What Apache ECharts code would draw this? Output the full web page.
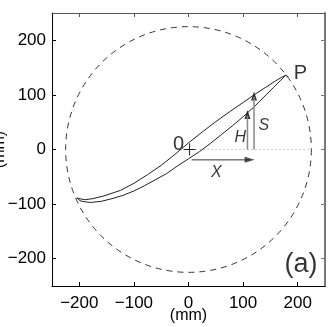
<!DOCTYPE html>
<html>
<head>
<meta charset="utf-8">
<script src="https://cdn.jsdelivr.net/npm/echarts@6/dist/echarts.min.js"></script>
<style>
  html, body { margin: 0; padding: 0; background: #fff; }
  #chart { width: 331px; height: 327px; }
</style>
</head>
<body>
<div id="chart"></div>
<script>
// tick labels (mm)
const xTicks = [-200, -100, 0, 100, 200];
const yTicks = [-200, -100, 0, 100, 200];

// trajectory loop: [x, y] in mm
const upperPath = [
  [-205, -89], [-190, -92], [-175, -90], [-155, -85], [-125, -75], [-100, -62],
  [-75, -46], [-50, -29], [-25, -9], [0, 12], [25, 32], [50, 51], [75, 69],
  [100, 86], [120, 100], [140, 113], [160, 126], [170, 132], [178, 136], [183, 133]
];
const lowerPath = [
  [-203, -88], [-200, -93], [-195, -95], [-180, -97], [-160, -95], [-140, -90],
  [-120, -84], [-100, -76], [-80, -66], [-60, -55], [-40, -44], [-20, -30],
  [0, -17], [20, -4], [40, 11], [60, 27], [80, 43], [100, 60], [120, 78],
  [140, 98], [156, 114], [169, 127], [178, 136]
];

// dashed reach circle: [cx, cy, r]
const reachCircle = [[0, 0, 225]];

// construction lines
const dottedAxis = [[13, 0], [225, 0]];
const xArrow = [[6, -19], [112, -19]];
const hArrow = [[108, 0], [108, 62]];
const sArrow = [[120, 0], [120, 96]];
const crossH = [[-9, 0], [13, 0]];
const crossV = [[2, 11], [2, -11]];
const upHeads = [[108, 64], [120, 98]];
const rightHeads = [[112, -19]];

// annotations: [x, y, text, fontSize]
const labels = [
  [-18, 9, '0', 20],
  [205, 140, 'P', 20],
  [206, -210, '(a)', 27]
];
const italicLabels = [
  [95, 22, 'H'],
  [138, 44, 'S'],
  [51, -42, 'X']
];

const minus = (v) => String(v).replace('-', '\u2212');
const font = 'Liberation Sans, Arial, Helvetica, sans-serif';

function seg(data, color, type, width) {
  return {
    type: 'line', data: data, symbol: 'none', silent: true, animation: false,
    lineStyle: { color: color, width: width || 1, type: type || 'solid' }
  };
}

function frameAxis(position, color, width, extra) {
  return Object.assign({
    type: 'value', min: -250, max: 250, position: position,
    splitLine: { show: false },
    axisLine: { onZero: false, lineStyle: { color: color, width: width } },
    axisTick: { inside: true, length: 4, customValues: xTicks, lineStyle: { color: color } },
    axisLabel: { show: false }
  }, extra || {});
}

const chart = echarts.init(document.getElementById('chart'));
chart.setOption({
  animation: false,
  grid: { left: 52, right: 6, top: 13, bottom: 41, containLabel: false, outerBoundsMode: 'none' },
  xAxis: [
    frameAxis('bottom', '#000', 1, {
      name: '(mm)', nameLocation: 'middle', nameGap: 22, nameMoveOverlap: false,
      nameTextStyle: { fontSize: 16, color: '#000', fontFamily: font },
      axisLabel: { customValues: xTicks, formatter: minus, margin: 9, fontSize: 17, color: '#000', fontFamily: font }
    }),
    frameAxis('top', '#555', 1)
  ],
  yAxis: [
    frameAxis('left', '#000', 1, {
      name: '(mm)', nameLocation: 'middle', nameGap: 44, nameRotate: 90, nameMoveOverlap: false,
      nameTextStyle: { fontSize: 16, color: '#000', fontFamily: font },
      axisTick: { inside: true, length: 4, customValues: yTicks, lineStyle: { color: '#000' } },
      axisLabel: { customValues: yTicks, formatter: minus, margin: 6, fontSize: 17, color: '#000', fontFamily: font }
    }),
    frameAxis('right', '#777', 2, {
      axisTick: { inside: true, length: 4, customValues: yTicks, lineStyle: { color: '#777' } }
    })
  ],
  series: [
    {
      type: 'custom', data: reachCircle, silent: true,
      renderItem(params, api) {
        const c = api.coord([api.value(0), api.value(1)]);
        const s = api.size([api.value(2), api.value(2)]);
        return {
          type: 'circle',
          shape: { cx: c[0], cy: c[1], r: (s[0] + s[1]) / 2 },
          style: { fill: 'none', stroke: '#333', lineWidth: 1, lineDash: [6, 5] }
        };
      }
    },
    seg(dottedAxis, '#aaa', [1, 3]),
    seg(upperPath, '#222'),
    seg(lowerPath, '#222'),
    seg(xArrow, '#333'),
    seg(hArrow, '#888', 'solid', 1.5),
    seg(sArrow, '#888', 'solid', 1.5),
    seg(crossH, '#222'),
    seg(crossV, '#222'),
    {
      type: 'scatter', data: upHeads, symbol: 'triangle', symbolSize: [6, 9],
      itemStyle: { color: '#000' }, silent: true
    },
    {
      type: 'scatter', data: rightHeads, symbol: 'triangle', symbolSize: [6, 10], symbolRotate: -90,
      itemStyle: { color: '#222' }, silent: true
    },
    {
      type: 'scatter', symbolSize: 0, silent: true,
      data: labels.map((l) => ({ value: [l[0], l[1]], name: l[2], label: { fontSize: l[3] } })),
      label: {
        show: true, position: 'inside', formatter: '{b}',
        color: '#000', fontFamily: font
      }
    },
    {
      type: 'scatter', symbolSize: 0, silent: true,
      data: italicLabels.map((l) => ({ value: [l[0], l[1]], name: l[2] })),
      label: {
        show: true, position: 'inside', formatter: '{b}',
        fontSize: 16, fontStyle: 'italic', color: '#000', fontFamily: font
      }
    }
  ]
});
</script>
</body>
</html>
